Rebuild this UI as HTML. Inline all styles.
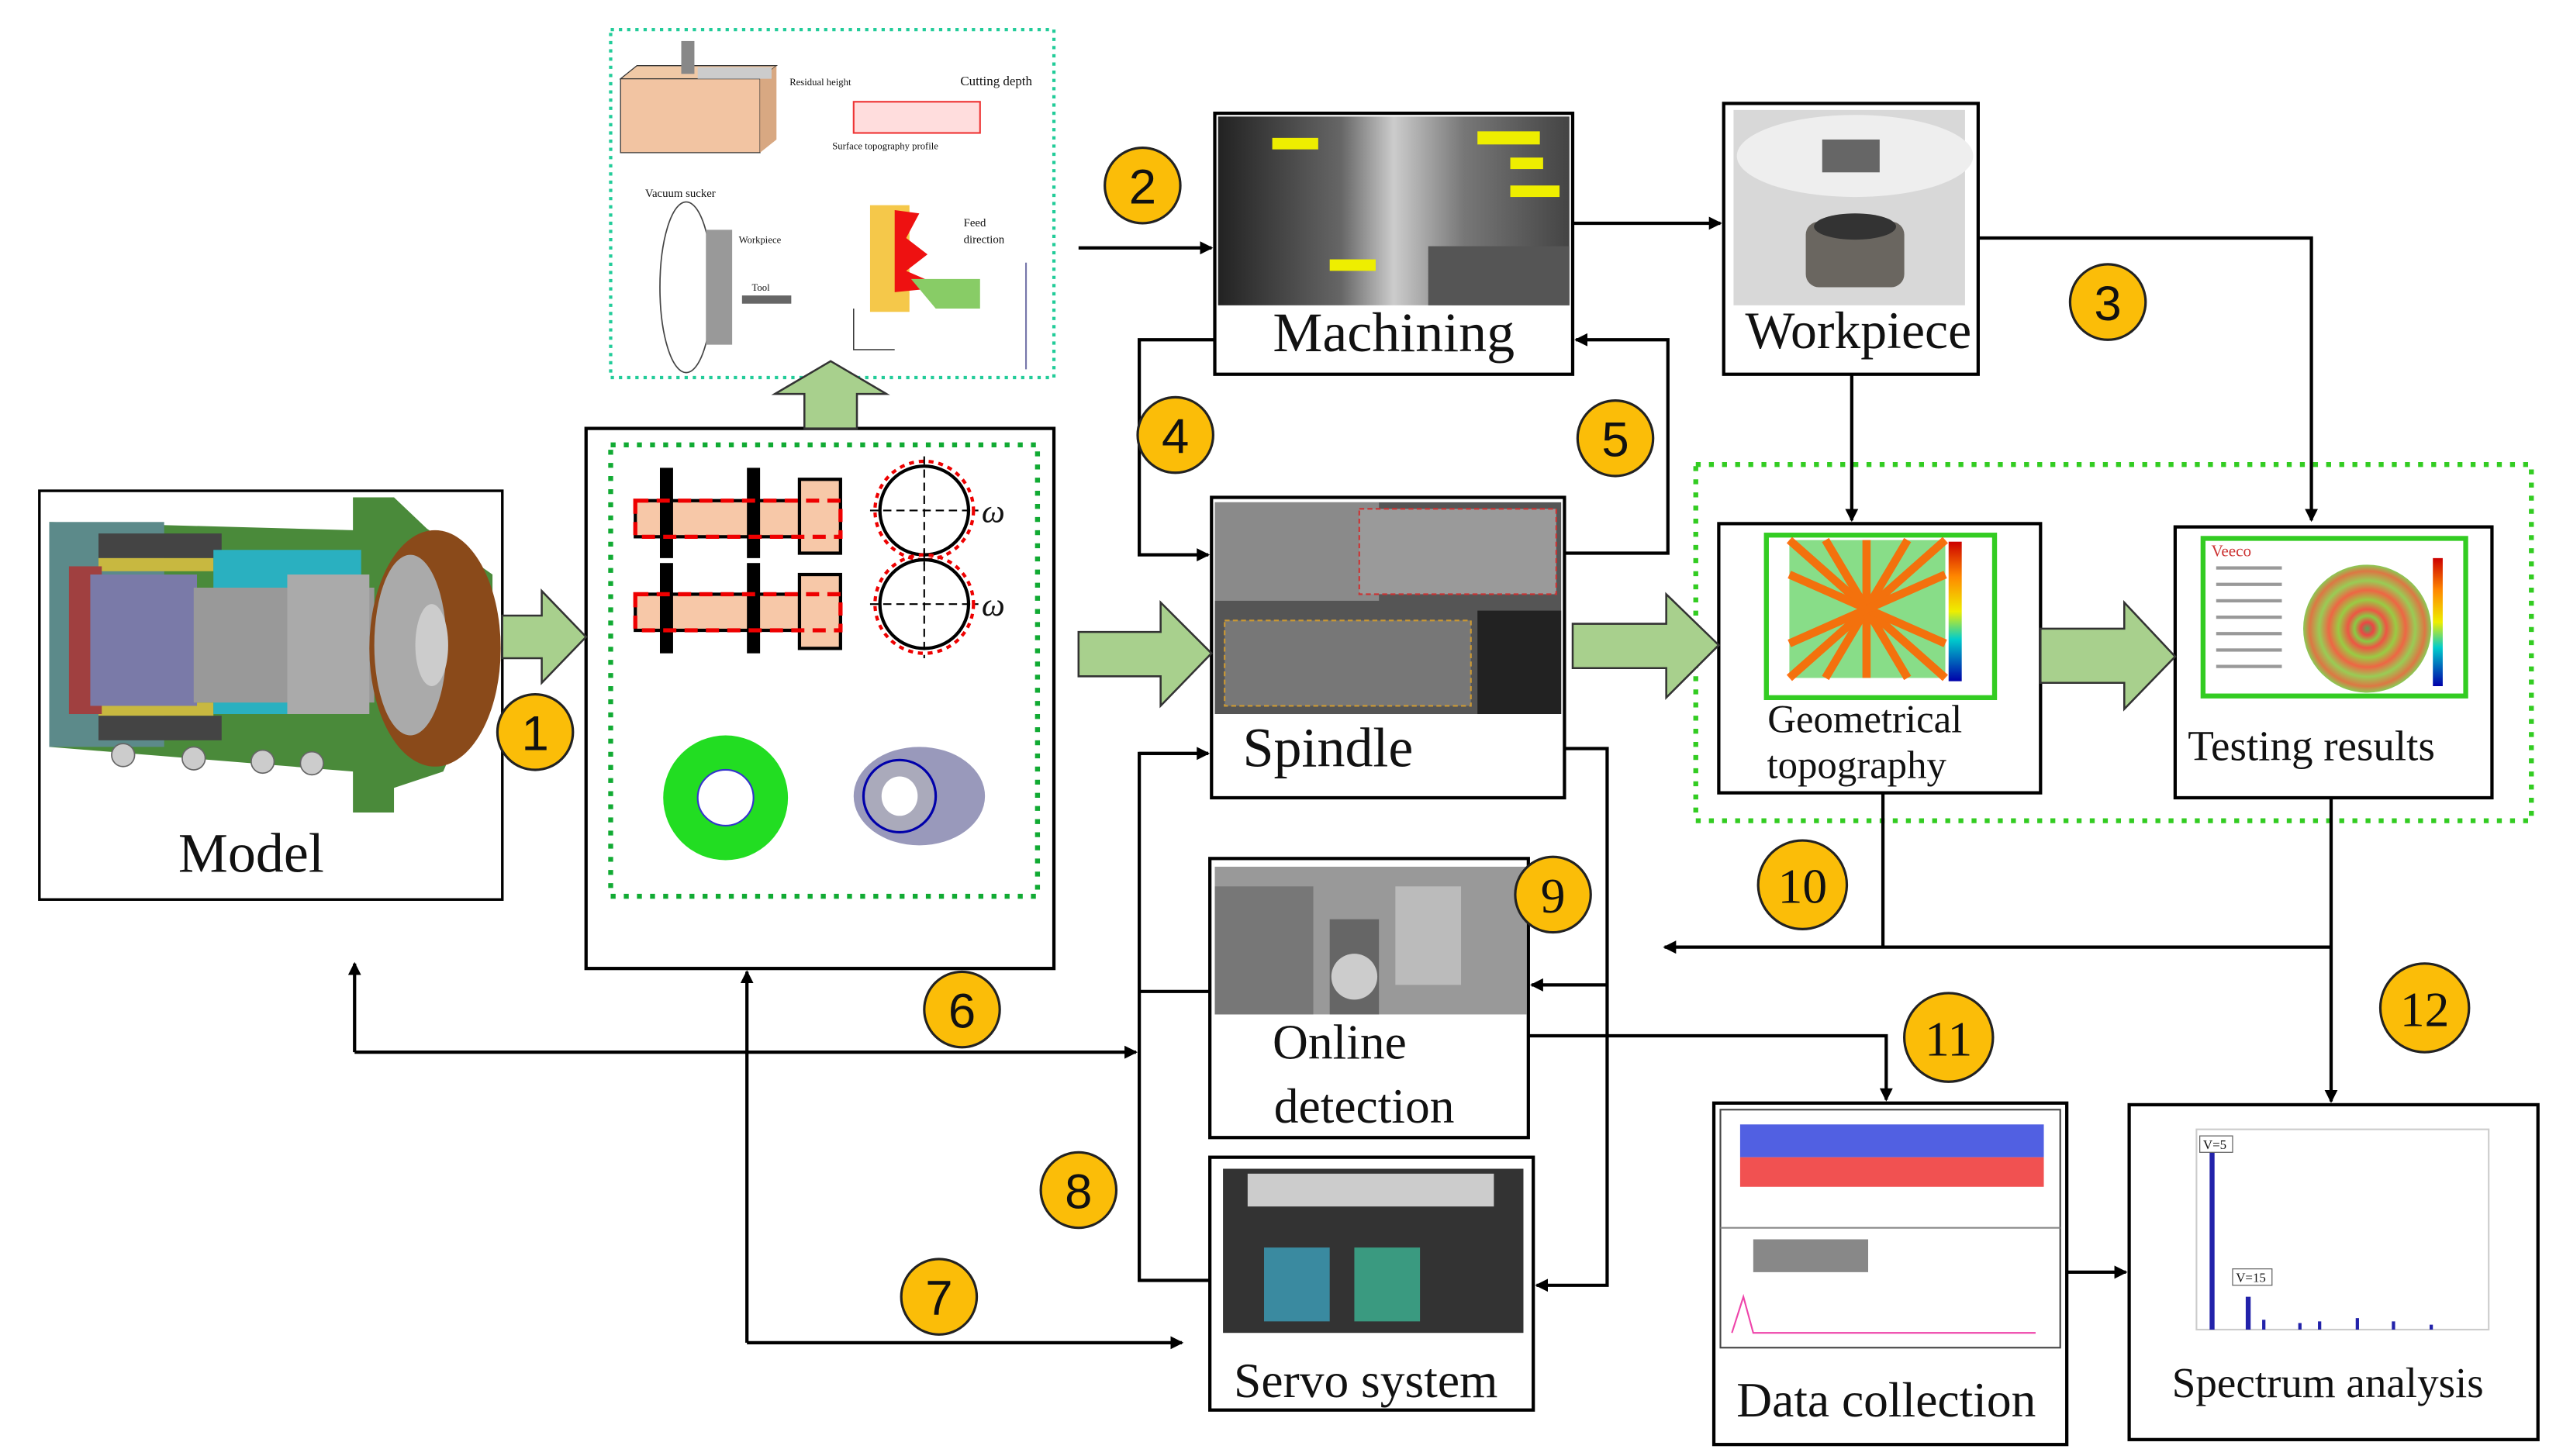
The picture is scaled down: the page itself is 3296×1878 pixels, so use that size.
<!DOCTYPE html>
<html><head><meta charset="utf-8"><style>
html,body{margin:0;padding:0;background:#fff;}
svg{display:block;}
text{font-family:"Liberation Serif",serif;fill:#111;}
</style></head><body>
<svg width="3296" height="1878" viewBox="0 0 1557 887" preserveAspectRatio="none" xmlns="http://www.w3.org/2000/svg">
<defs>
<marker id="ah" markerWidth="8" markerHeight="8" refX="7" refY="4" orient="auto" markerUnits="userSpaceOnUse"><path d="M0,0 L8,4 L0,8 Z" fill="#000"/></marker>
<linearGradient id="rb" x1="0" y1="0" x2="0" y2="1"><stop offset="0" stop-color="#c00"/><stop offset=".25" stop-color="#f80"/><stop offset=".5" stop-color="#ee0"/><stop offset=".7" stop-color="#0cc"/><stop offset="1" stop-color="#00a"/></linearGradient>
<radialGradient id="rings" cx=".5" cy=".5" r=".5"><stop offset="0" stop-color="#5a5"/><stop offset=".1" stop-color="#e44"/><stop offset=".2" stop-color="#8c4"/><stop offset=".3" stop-color="#e54"/><stop offset=".45" stop-color="#9c4"/><stop offset=".6" stop-color="#e64"/><stop offset=".75" stop-color="#9c5"/><stop offset=".9" stop-color="#d74"/><stop offset="1" stop-color="#8c5"/></radialGradient>
<linearGradient id="mach" x1="0" y1="0" x2="1" y2="0"><stop offset="0" stop-color="#222"/><stop offset=".35" stop-color="#666"/><stop offset=".5" stop-color="#ccc"/><stop offset=".7" stop-color="#777"/><stop offset="1" stop-color="#444"/></linearGradient>
</defs>

<rect x="372" y="18" width="270" height="212" fill="#fff" stroke="#2c9" stroke-width="2" stroke-dasharray="2,3"/>
<polygon points="378,48 388,40 473,40 463,48" fill="#f0c9a6" stroke="#333" stroke-width=".6"/>
<rect x="378" y="48" width="85" height="45" fill="#f2c4a2" stroke="#333" stroke-width=".6"/>
<polygon points="463,48 473,40 473,85 463,93" fill="#d8a882"/>
<rect x="415" y="25" width="8" height="20" fill="#888"/>
<rect x="425" y="41" width="45" height="7" fill="#ccc"/>
<text x="481" y="52" font-size="6">Residual height</text>
<text x="585" y="52" font-size="8">Cutting depth</text>
<rect x="520" y="62" width="77" height="19" fill="#fdd" stroke="#e33" stroke-width="1"/>
<text x="507" y="91" font-size="6">Surface topography profile</text>
<text x="393" y="120" font-size="7">Vacuum sucker</text>
<ellipse cx="418" cy="175" rx="16" ry="52" fill="#fff" stroke="#444" stroke-width=".8"/>
<rect x="430" y="140" width="16" height="70" fill="#999"/>
<rect x="452" y="180" width="30" height="5" fill="#666"/>
<text x="450" y="148" font-size="6">Workpiece</text>
<text x="458" y="177" font-size="6">Tool</text>
<rect x="530" y="125" width="24" height="65" fill="#f5c84a"/>
<path d="M545,128 L560,130 L552,145 L565,155 L552,165 L575,175 L545,178 Z" fill="#e11"/>
<polygon points="555,170 597,170 597,188 570,188" fill="#8c6"/>
<text x="587" y="138" font-size="7">Feed</text><text x="587" y="148" font-size="7">direction</text>
<path d="M520,188 L520,213 L545,213" fill="none" stroke="#333" stroke-width=".7"/>
<line x1="625" y1="160" x2="625" y2="225" stroke="#77a" stroke-width="1"/>

<rect x="24" y="299" width="282" height="249" fill="#fff" stroke="#000" stroke-width="1.6"/>
<polygon points="30,318 215,323 215,303 240,303 260,322 300,350 300,400 270,470 240,480 240,495 215,495 215,470 30,455" fill="#4a8a3a"/>
<rect x="30" y="318" width="70" height="137" fill="#5c8a8a"/>
<rect x="60" y="325" width="75" height="15" fill="#444"/><rect x="60" y="436" width="75" height="15" fill="#444"/>
<rect x="60" y="340" width="70" height="8" fill="#c8b840"/><rect x="60" y="428" width="70" height="8" fill="#c8b840"/>
<rect x="130" y="335" width="90" height="100" fill="#2ab0c0"/>
<rect x="42" y="345" width="20" height="90" fill="#a04040"/>
<rect x="55" y="350" width="65" height="80" fill="#7a7aa8"/>
<rect x="118" y="358" width="110" height="70" fill="#999"/>
<rect x="175" y="350" width="50" height="85" fill="#aaa"/>
<ellipse cx="265" cy="395" rx="40" ry="72" fill="#8a4a1a"/>
<ellipse cx="250" cy="393" rx="22" ry="55" fill="#aaa"/>
<ellipse cx="263" cy="393" rx="10" ry="25" fill="#ccc"/>
<g fill="#ccc" stroke="#666" stroke-width=".8"><circle cx="75" cy="460" r="7"/><circle cx="118" cy="462" r="7"/><circle cx="160" cy="464" r="7"/><circle cx="190" cy="465" r="7"/></g>
<text x="153" y="531" font-size="34" text-anchor="middle">Model</text>

<rect x="357" y="261" width="285" height="329" fill="#fff" stroke="#000" stroke-width="2"/>
<rect x="372" y="271" width="260" height="275" fill="none" stroke="#1a3" stroke-width="3" stroke-dasharray="3,5"/>
<g>
<rect x="387" y="305" width="125" height="22" fill="#f7c8a8" stroke="#000" stroke-width="2"/>
<rect x="487" y="292" width="25" height="45" fill="#f7c8a8" stroke="#000" stroke-width="2"/>
<rect x="402" y="285" width="8" height="55" fill="#000"/><rect x="455" y="285" width="8" height="55" fill="#000"/>
<rect x="387" y="305" width="125" height="22" fill="none" stroke="#e00" stroke-width="2.5" stroke-dasharray="8,5"/>
<rect x="387" y="362" width="125" height="22" fill="#f7c8a8" stroke="#000" stroke-width="2"/>
<rect x="487" y="350" width="25" height="45" fill="#f7c8a8" stroke="#000" stroke-width="2"/>
<rect x="402" y="343" width="8" height="55" fill="#000"/><rect x="455" y="343" width="8" height="55" fill="#000"/>
<rect x="387" y="362" width="125" height="22" fill="none" stroke="#e00" stroke-width="2.5" stroke-dasharray="8,5"/>
<circle cx="563" cy="311" r="27" fill="none" stroke="#000" stroke-width="2"/><circle cx="563" cy="311" r="30" fill="none" stroke="#e00" stroke-width="2" stroke-dasharray="3,3"/>
<line x1="530" y1="311" x2="596" y2="311" stroke="#000" stroke-dasharray="5,3"/><line x1="563" y1="278" x2="563" y2="344" stroke="#000" stroke-dasharray="5,3"/>
<circle cx="563" cy="368" r="27" fill="none" stroke="#000" stroke-width="2"/><circle cx="563" cy="368" r="30" fill="none" stroke="#e00" stroke-width="2" stroke-dasharray="3,3"/>
<line x1="530" y1="368" x2="596" y2="368" stroke="#000" stroke-dasharray="5,3"/><line x1="563" y1="335" x2="563" y2="401" stroke="#000" stroke-dasharray="5,3"/>
<text x="598" y="318" font-size="20" font-style="italic">ω</text><text x="598" y="375" font-size="20" font-style="italic">ω</text>
<circle cx="442" cy="486" r="38" fill="#2d2"/><circle cx="442" cy="486" r="17" fill="#fff" stroke="#33c"/>
<ellipse cx="560" cy="485" rx="40" ry="30" fill="#99b"/><ellipse cx="548" cy="485" rx="22" ry="22" fill="#aab" stroke="#00a" stroke-width="1.5"/><ellipse cx="548" cy="485" rx="11" ry="12" fill="#fff"/>
</g>

<rect x="740" y="69" width="218" height="159" fill="#fff" stroke="#000" stroke-width="2"/>
<rect x="742" y="71" width="214" height="115" fill="url(#mach)"/>
<rect x="870" y="150" width="86" height="36" fill="#555"/>
<rect x="900" y="80" width="38" height="8" fill="#ee0"/><rect x="920" y="96" width="20" height="7" fill="#ee0"/><rect x="920" y="113" width="30" height="7" fill="#ee0"/><rect x="810" y="158" width="28" height="7" fill="#ee0"/><rect x="775" y="84" width="28" height="7" fill="#ee0"/>
<text x="849" y="214" font-size="34" text-anchor="middle">Machining</text>

<rect x="1050" y="63" width="155" height="165" fill="#fff" stroke="#000" stroke-width="2"/>
<rect x="1056" y="67" width="141" height="119" fill="#d8d8d8"/>
<ellipse cx="1130" cy="95" rx="72" ry="25" fill="#eee"/>
<rect x="1110" y="85" width="35" height="20" fill="#666"/><rect x="1100" y="135" width="60" height="40" rx="8" fill="#6a6660"/><ellipse cx="1130" cy="138" rx="25" ry="8" fill="#333"/>
<text x="1132" y="212" font-size="32" text-anchor="middle">Workpiece</text>

<rect x="738" y="303" width="215" height="183" fill="#fff" stroke="#000" stroke-width="2"/>
<rect x="740" y="306" width="211" height="129" fill="#555"/>
<rect x="740" y="306" width="100" height="60" fill="#8a8a8a"/>
<rect x="828" y="310" width="120" height="52" fill="#9a9a9a" stroke="#c33" stroke-dasharray="3,2"/>
<rect x="746" y="378" width="150" height="52" fill="#777" stroke="#c93" stroke-dasharray="3,2"/>
<rect x="900" y="372" width="51" height="63" fill="#222"/>
<text x="757" y="467" font-size="34">Spindle</text>

<rect x="1033" y="283" width="509" height="217" fill="none" stroke="#3c2" stroke-width="3" stroke-dasharray="3,5"/>

<rect x="1047" y="319" width="196" height="164" fill="#fff" stroke="#000" stroke-width="2"/>
<rect x="1076" y="326" width="139" height="99" fill="#fff" stroke="#3c2" stroke-width="3"/>
<rect x="1090" y="329" width="95" height="84" fill="#8d8"/>
<g stroke="#f60" stroke-width="5" opacity=".9"><line x1="1090" y1="329" x2="1185" y2="413"/><line x1="1185" y1="329" x2="1090" y2="413"/><line x1="1137" y1="329" x2="1137" y2="413"/><line x1="1112" y1="329" x2="1162" y2="413"/><line x1="1162" y1="329" x2="1112" y2="413"/><line x1="1090" y1="350" x2="1185" y2="392"/><line x1="1090" y1="392" x2="1185" y2="350"/></g>
<rect x="1187" y="330" width="8" height="85" fill="url(#rb)"/>
<text x="1136" y="446" font-size="24" text-anchor="middle">Geometrical</text>
<text x="1131" y="474" font-size="24" text-anchor="middle">topography</text>

<rect x="1325" y="321" width="193" height="165" fill="#fff" stroke="#000" stroke-width="2"/>
<rect x="1342" y="328" width="160" height="96" fill="#fff" stroke="#3c2" stroke-width="3"/>
<circle cx="1442" cy="383" r="39" fill="url(#rings)"/>
<rect x="1482" y="340" width="6" height="78" fill="url(#rb)"/>
<g fill="#999"><rect x="1350" y="345" width="40" height="2"/><rect x="1350" y="355" width="40" height="2"/><rect x="1350" y="365" width="40" height="2"/><rect x="1350" y="375" width="40" height="2"/><rect x="1350" y="385" width="40" height="2"/><rect x="1350" y="395" width="40" height="2"/><rect x="1350" y="405" width="40" height="2"/></g>
<text x="1347" y="339" font-size="10" style="fill:#c33">Veeco</text>
<text x="1408" y="463" font-size="26" text-anchor="middle">Testing results</text>

<rect x="737" y="523" width="194" height="170" fill="#fff" stroke="#000" stroke-width="2"/>
<rect x="740" y="528" width="190" height="90" fill="#999"/>
<rect x="740" y="540" width="60" height="78" fill="#777"/><rect x="810" y="560" width="30" height="58" fill="#666"/><rect x="850" y="540" width="40" height="60" fill="#bbb"/><circle cx="825" cy="595" r="14" fill="#ccc"/>
<text x="816" y="645" font-size="30" text-anchor="middle">Online</text>
<text x="831" y="684" font-size="30" text-anchor="middle">detection</text>

<rect x="737" y="705" width="197" height="154" fill="#fff" stroke="#000" stroke-width="2"/>
<rect x="745" y="712" width="183" height="100" fill="#333"/>
<rect x="760" y="715" width="150" height="20" fill="#ccc"/>
<rect x="770" y="760" width="40" height="45" fill="#3a8aa0"/><rect x="825" y="760" width="40" height="45" fill="#3a9a80"/>
<text x="832" y="851" font-size="30" text-anchor="middle">Servo system</text>

<rect x="1044" y="672" width="215" height="208" fill="#fff" stroke="#000" stroke-width="2"/>
<rect x="1048" y="676" width="207" height="145" fill="#fff" stroke="#444" stroke-width="1"/>
<rect x="1060" y="685" width="185" height="20" fill="#34d" opacity=".85"/>
<rect x="1060" y="705" width="185" height="18" fill="#e33" opacity=".85"/>
<line x1="1048" y1="748" x2="1255" y2="748" stroke="#888"/>
<rect x="1068" y="755" width="70" height="20" fill="#888"/>
<path d="M1055,812 L1062,790 L1068,812 L1090,812 L1240,812" stroke="#e4a" fill="none"/>
<text x="1149" y="863" font-size="30" text-anchor="middle">Data collection</text>

<rect x="1297" y="673" width="249" height="204" fill="#fff" stroke="#000" stroke-width="2"/>
<rect x="1338" y="688" width="178" height="122" fill="#fff" stroke="#ccc"/>
<rect x="1346" y="700" width="3" height="110" fill="#22a"/><rect x="1368" y="790" width="3" height="20" fill="#22a"/>
<g fill="#22a"><rect x="1378" y="804" width="2" height="6"/><rect x="1400" y="806" width="2" height="4"/><rect x="1412" y="805" width="2" height="5"/><rect x="1435" y="803" width="2" height="7"/><rect x="1457" y="805" width="2" height="5"/><rect x="1480" y="807" width="2" height="3"/></g>
<rect x="1340" y="692" width="20" height="10" fill="#fff" stroke="#666" stroke-width=".6"/><text x="1342" y="700" font-size="8">V=5</text>
<rect x="1360" y="773" width="24" height="10" fill="#fff" stroke="#666" stroke-width=".6"/><text x="1362" y="781" font-size="8">V=15</text>
<text x="1418" y="851" font-size="26" text-anchor="middle">Spectrum analysis</text>

<g fill="#a8d08d" stroke="#333" stroke-width="1.2">
<polygon points="306,375 330,375 330,360 357,388 330,416 330,401 306,401"/>
<polygon points="657,385 707,385 707,367 738,398 707,430 707,412 657,412"/>
<polygon points="958,380 1015,380 1015,362 1047,393 1015,425 1015,407 958,407"/>
<polygon points="1243,383 1294,383 1294,367 1325,400 1294,432 1294,416 1243,416"/>
<polygon points="490,261 490,240 472,240 506,220 540,240 522,240 522,261"/>
</g>

<g stroke="#000" stroke-width="2" fill="none">
<line x1="657" y1="151" x2="738" y2="151" marker-end="url(#ah)"/>
<line x1="958" y1="136" x2="1048" y2="136" marker-end="url(#ah)"/>
<polyline points="1205,145 1408,145 1408,317" marker-end="url(#ah)"/>
<line x1="1128" y1="228" x2="1128" y2="317" marker-end="url(#ah)"/>
<polyline points="740,207 694,207 694,338 736,338" marker-end="url(#ah)"/>
<polyline points="953,337 1016,337 1016,207 960,207" marker-end="url(#ah)"/>
<polyline points="953,456 979,456 979,783 936,783" marker-end="url(#ah)"/>
<line x1="979" y1="600" x2="933" y2="600" marker-end="url(#ah)"/>
<polyline points="736,459 694,459 694,780 737,780"/>
<line x1="694" y1="459" x2="736" y2="459" marker-end="url(#ah)"/>
<line x1="737" y1="604" x2="694" y2="604"/>
<line x1="216" y1="641" x2="216" y2="587" marker-end="url(#ah)"/>
<line x1="216" y1="641" x2="692" y2="641" marker-end="url(#ah)"/>
<line x1="455" y1="818" x2="455" y2="592" marker-end="url(#ah)"/>
<line x1="455" y1="818" x2="720" y2="818" marker-end="url(#ah)"/>
<line x1="1147" y1="483" x2="1147" y2="577"/>
<line x1="1420" y1="577" x2="1014" y2="577" marker-end="url(#ah)"/>
<line x1="1420" y1="486" x2="1420" y2="671" marker-end="url(#ah)"/>
<polyline points="931,631 1149,631 1149,670" marker-end="url(#ah)"/>
<line x1="1259" y1="775" x2="1295" y2="775" marker-end="url(#ah)"/>
</g>

<g font-size="30" text-anchor="middle">
<g fill="#fbbd08" stroke="#222" stroke-width="1.5">
<circle cx="326" cy="446" r="23"/><circle cx="696" cy="113" r="23"/><circle cx="1284" cy="184" r="23"/><circle cx="716" cy="265" r="23"/><circle cx="984" cy="267" r="23"/><circle cx="586" cy="615" r="23"/><circle cx="572" cy="790" r="23"/><circle cx="657" cy="725" r="23"/><circle cx="946" cy="545" r="23"/><circle cx="1098" cy="539" r="27"/><circle cx="1187" cy="632" r="27"/><circle cx="1477" cy="614" r="27"/>
</g>
<text x="326" y="457" style="font-family:'Liberation Sans',sans-serif">1</text>
<text x="696" y="124" style="font-family:'Liberation Sans',sans-serif">2</text>
<text x="1284" y="195" style="font-family:'Liberation Sans',sans-serif">3</text>
<text x="716" y="276" style="font-family:'Liberation Sans',sans-serif">4</text>
<text x="984" y="278" style="font-family:'Liberation Sans',sans-serif">5</text>
<text x="586" y="626" style="font-family:'Liberation Sans',sans-serif">6</text>
<text x="572" y="801" style="font-family:'Liberation Sans',sans-serif">7</text>
<text x="657" y="736" style="font-family:'Liberation Sans',sans-serif">8</text>
<text x="946" y="556">9</text>
<text x="1098" y="550">10</text>
<text x="1187" y="643">11</text>
<text x="1477" y="625">12</text>
</g>
</svg>
</body></html>
